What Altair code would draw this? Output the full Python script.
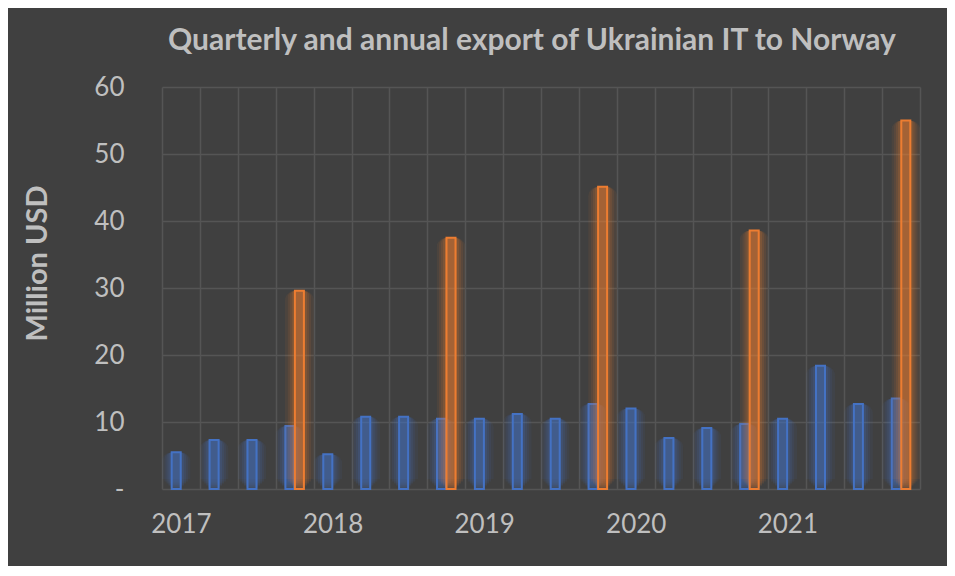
import altair as alt
import pandas as pd

years = [2017, 2018, 2019, 2020, 2021]
quarters = ["Q1", "Q2", "Q3", "Q4"]
quarterly = [5.5, 7.3, 7.3, 9.4,
             5.2, 10.8, 10.8, 10.5,
             10.5, 11.2, 10.5, 12.7,
             12.0, 7.6, 9.1, 9.7,
             10.5, 18.4, 12.7, 13.5]
annual = [29.6, 37.5, 45.1, 38.6, 55.0]

cats = [f"{y}-{q}" for y in years for q in quarters]
q_df = pd.DataFrame({"cat": cats, "value": quarterly})
a_df = pd.DataFrame({"cat": [f"{y}-Q4" for y in years], "value": annual})

BG = "#404040"
TXT = "#bfbfbf"
GRID = "#555555"
BLUE = "#4472C4"
ORANGE = "#ED7D31"
FONT = "Lato"

x_enc = alt.X(
    "cat:O",
    sort=cats,
    scale=alt.Scale(paddingInner=0, paddingOuter=0),
    axis=alt.Axis(
        title=None,
        grid=True,
        gridColor=GRID,
        gridWidth=1.5,
        tickBand="extent",
        ticks=False,
        domain=False,
        labelAngle=0,
        labelExpr="split(datum.value, '-')[1] == 'Q1' ? split(datum.value, '-')[0] : ''",
        labelColor=TXT,
        labelFont=FONT,
        labelFontSize=26,
        labelPadding=22,
    ),
)
y_enc = alt.Y(
    "value:Q",
    scale=alt.Scale(domain=[0, 60]),
    axis=alt.Axis(
        title="Million USD",
        values=[0, 10, 20, 30, 40, 50, 60],
        grid=True,
        gridColor=GRID,
        gridWidth=1.5,
        ticks=False,
        domain=False,
        labelExpr="datum.value == 0 ? '-' : datum.label",
        labelColor=TXT,
        labelFont=FONT,
        labelFontSize=26,
        labelPadding=38,
        titleColor=TXT,
        titleFont=FONT,
        titleFontSize=29,
        titleFontWeight="bold",
        titleX=-110,
        titleY=176,
        titleAlign="center",
        titleBaseline="bottom",
        titleAngle=270,
    ),
)


def series_layers(df, color, xoff):
    layers = []
    for k, op in [(10, 0.07), (7.5, 0.09), (5.5, 0.11), (3.5, 0.14), (1.5, 0.18)]:
        layers.append(
            alt.Chart(df).mark_bar(
                color=color, opacity=op, width=9 + 2 * k, xOffset=xoff,
                yOffset=-k, cornerRadius=k,
            ).encode(x=x_enc, y=y_enc)
        )
    layers.append(
        alt.Chart(df).mark_bar(
            fill=color, fillOpacity=0.22, stroke=color, strokeWidth=2,
            width=9, xOffset=xoff,
        ).encode(x=x_enc, y=y_enc)
    )
    return layers


chart = alt.layer(
    *series_layers(q_df, BLUE, -4.75),
    *series_layers(a_df, ORANGE, 4.75),
).properties(
    width=758,
    height=402,
    background=BG,
    padding={"left": 154, "top": 79, "right": 27, "bottom": 77},
    autosize=alt.AutoSizeParams(type="none"),
    title=alt.TitleParams(
        "Quarterly and annual export of Ukrainian IT to Norway",
        color=TXT, font=FONT, fontSize=30, fontWeight="bold",
        anchor="middle", offset=18, dx=-9,
    ),
).configure_view(stroke=None)

chart.save("out.html", embed_options={"renderer": "svg", "actions": False})
